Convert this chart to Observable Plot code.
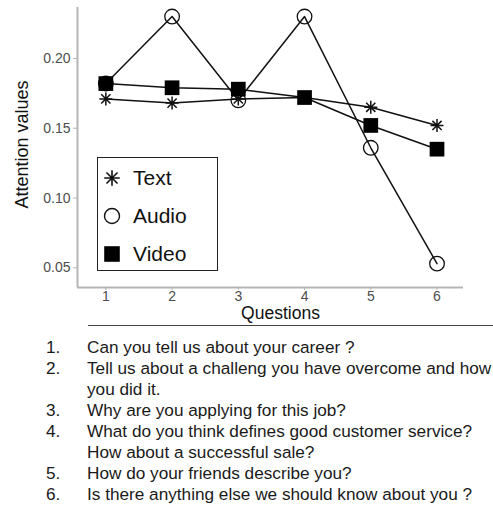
<!DOCTYPE html>
<html>
<head>
<meta charset="utf-8">
<script src="https://cdn.jsdelivr.net/npm/d3@7"></script>
<script src="https://cdn.jsdelivr.net/npm/@observablehq/plot@0.6"></script>
<style>
  html, body { margin: 0; padding: 0; background: white; }
  #wrap { position: relative; width: 493px; height: 510px; overflow: hidden; font-family: "Liberation Sans", Arial, sans-serif; }
  #chart { position: absolute; left: 0; top: 0; }
  #legend { position: absolute; left: 97px; top: 157px; width: 121px; height: 114px; border: 1px solid #222; background: white; box-sizing: border-box; }
  .lg-row { position: absolute; left: 0; height: 24px; font-size: 21px; line-height: 24px; color: #111; }
  .lg-row svg { position: absolute; left: 2px; top: 0; }
  .lg-row span { position: absolute; left: 35px; top: 0; white-space: nowrap; }
  #rule { position: absolute; left: 88px; top: 325px; width: 405px; height: 0; border-top: 1.5px solid #444; }
  #questions { position: absolute; left: 0; top: 337px; width: 493px; font-size: 17.2px; line-height: 21px; color: #1a1a1a; }
  .q-row { position: relative; height: 21px; white-space: nowrap; }
  .q-num { position: absolute; left: 46px; }
  .q-txt { position: absolute; left: 87px; }
</style>
</head>
<body>
<div id="wrap">
  <div id="chart"></div>
  <div id="legend"></div>
  <div id="rule"></div>
  <div id="questions"></div>
</div>
<script>
const questions = [1, 2, 3, 4, 5, 6];
const seriesNames = ["Text", "Audio", "Video"];
const textValues  = [0.171, 0.168, 0.171, 0.172, 0.165, 0.152];
const audioValues = [0.182, 0.230, 0.170, 0.230, 0.136, 0.053];
const videoValues = [0.182, 0.179, 0.178, 0.172, 0.152, 0.135];
const yTicks = [0.05, 0.10, 0.15, 0.20];
const xLabel = "Questions";
const yLabel = "Attention values";
const questionNumbers = ["1.", "2.", "", "3.", "4.", "", "5.", "6."];
const questionLines = [
  "Can you tell us about your career ?",
  "Tell us about a challeng you have overcome and how",
  "you did it.",
  "Why are you applying for this job?",
  "What do you think defines good customer service?",
  "How about a successful sale?",
  "How do your friends describe you?",
  "Is there anything else we should know about you ?"
];

const toRows = (vals) => questions.map((q, i) => ({q, v: vals[i]}));
const textData = toRows(textValues);
const audioData = toRows(audioValues);
const videoData = toRows(videoValues);

// 8-spoke asterisk (plus + cross), like R's pch 8
const asterisk8 = {
  draw(ctx, size) {
    const a = Math.sqrt(size / Math.PI);
    const d = a * Math.SQRT1_2;
    ctx.moveTo(-a, 0); ctx.lineTo(a, 0);
    ctx.moveTo(0, -a); ctx.lineTo(0, a);
    ctx.moveTo(-d, -d); ctx.lineTo(d, d);
    ctx.moveTo(-d, d); ctx.lineTo(d, -d);
  }
};

const xMin = 0.572, xMax = 6.40, yMin = 0.0359, yMax = 0.2365;
const axisGrey = "#b5b5b5";
const tickText = "#4d4d4d";

const chart = Plot.plot({
  width: 493,
  height: 322,
  marginLeft: 77,
  marginRight: 30,
  marginTop: 7,
  marginBottom: 35,
  x: {domain: [xMin, xMax]},
  y: {domain: [yMin, yMax]},
  style: {fontFamily: "'Liberation Sans', Arial, sans-serif", fontSize: "14px", background: "white", overflow: "visible"},
  marks: [
    Plot.ruleX([xMin], {stroke: axisGrey, strokeWidth: 2}),
    Plot.ruleY([yMin], {stroke: axisGrey, strokeWidth: 2}),
    Plot.axisX({ticks: questions, tickFormat: d => String(d), tickSize: 3, tickPadding: 1, fontSize: 14, stroke: axisGrey, fill: tickText, label: null}),
    Plot.axisY({ticks: yTicks, tickFormat: d3.format(".2f"), tickSize: 4, tickPadding: 3, fontSize: 14, stroke: axisGrey, fill: tickText, label: null}),
    Plot.text([xLabel], {frameAnchor: "bottom", textAnchor: "middle", dx: 10, dy: 31.5, fontSize: 17.5, fill: "#111"}),
    Plot.text([yLabel], {frameAnchor: "left", textAnchor: "middle", rotate: -90, dx: -55, dy: -3, fontSize: 18, fill: "#111"}),
    Plot.line(audioData, {x: "q", y: "v", stroke: "#111", strokeWidth: 1.5}),
    Plot.line(textData, {x: "q", y: "v", stroke: "#111", strokeWidth: 1.5}),
    Plot.line(videoData, {x: "q", y: "v", stroke: "#111", strokeWidth: 1.5}),
    Plot.dot(audioData, {x: "q", y: "v", symbol: "circle", r: 7.3, stroke: "#111", fill: "none", strokeWidth: 1.3}),
    Plot.dot(textData, {x: "q", y: "v", symbol: asterisk8, r: 6.5, stroke: "#111", fill: "none", strokeWidth: 1.5}),
    Plot.dot(videoData, {x: "q", y: "v", symbol: "square", r: 8.3, fill: "#000", stroke: "none"})
  ]
});
document.getElementById("chart").appendChild(chart);

// Legend
const legendSymbols = [
  {type: asterisk8, r: 7.8, fill: "none", stroke: "#111", sw: 1.6},
  {type: d3.symbolCircle, r: 7.5, fill: "none", stroke: "#111", sw: 1.4},
  {type: d3.symbolSquare, r: 8.8, fill: "#000", stroke: "none", sw: 0}
];
const legend = document.getElementById("legend");
seriesNames.forEach((name, i) => {
  const row = document.createElement("div");
  row.className = "lg-row";
  row.style.top = (8 + i * 38) + "px";
  const s = legendSymbols[i];
  const path = d3.symbol(s.type, Math.PI * s.r * s.r)();
  row.innerHTML = `<svg width="24" height="24"><path transform="translate(12,12)" d="${path}" fill="${s.fill}" stroke="${s.stroke}" stroke-width="${s.sw}"></path></svg><span>${name}</span>`;
  legend.appendChild(row);
});

// Question list
const qDiv = document.getElementById("questions");
questionLines.forEach((line, i) => {
  const row = document.createElement("div");
  row.className = "q-row";
  const n = document.createElement("span");
  n.className = "q-num";
  n.textContent = questionNumbers[i];
  const t = document.createElement("span");
  t.className = "q-txt";
  t.textContent = line;
  row.appendChild(n);
  row.appendChild(t);
  qDiv.appendChild(row);
});
</script>
</body>
</html>
